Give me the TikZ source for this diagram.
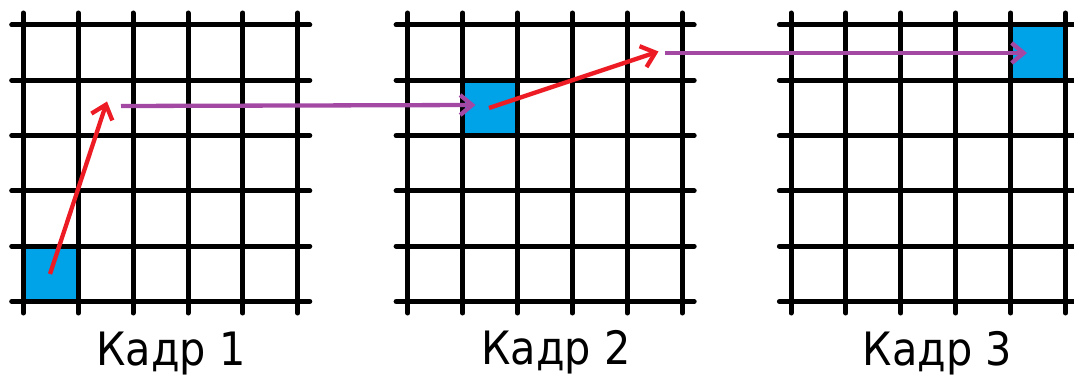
\documentclass[tikz,border=0pt]{standalone}
\usepackage{fontspec}
\setmainfont{DejaVu Sans Condensed}
\usetikzlibrary{arrows.meta}
\definecolor{cellblue}{RGB}{0,162,232}
\definecolor{arred}{RGB}{237,28,36}
\definecolor{arpurple}{RGB}{163,73,164}
\tikzset{
  gridline/.style={line width=5pt, black, line cap=round},
  cell/.style={fill=cellblue, draw=none},
  redarrow/.style={line width=4.3pt, arred, -{Straight Barb[length=13pt,width=22pt]}},
  purplearrow/.style={line width=4.3pt, arpurple, -{Straight Barb[length=12pt,width=20pt]}},
  caption/.style={font=\fontsize{46}{54}\selectfont, anchor=base, inner sep=0pt}
}
\begin{document}
\begin{tikzpicture}[x=1pt,y=-1pt]
\useasboundingbox (0,0) rectangle (1074,377);
\begin{scope}
\clip (0,0) rectangle (1074,377);
% blue cells
\fill[cell] (23.3,246.2) rectangle ++(54.9,55.3);
\fill[cell] (462.6,80.3) rectangle ++(54.9,55.3);
\fill[cell] (1010.6,25) rectangle ++(54.9,55.3);
% grids
\foreach \xo in {23.3,407.7,791} {
  \foreach \i in {0,...,5} {
    \draw[gridline] ({\xo+\i*54.9},13) -- ({\xo+\i*54.9},313);
    \draw[gridline] ({\xo-11.6},{25+\i*55.3}) -- ({\xo+286.5},{25+\i*55.3});
  }
}
\end{scope}
% coordinates for connectors
\coordinate (r1s) at (50,274);
\coordinate (r1e) at (107,101.5);
\coordinate (p1s) at (121,106);
\coordinate (p1e) at (475.5,105);
\coordinate (r2s) at (489,108);
\coordinate (r2e) at (658.5,51.5);
\coordinate (p2s) at (665,53);
\coordinate (p2e) at (1027,53);
\draw[redarrow] (r1s) -- (r1e);
\draw[purplearrow] (p1s) -- (p1e);
\draw[redarrow] (r2s) -- (r2e);
\draw[purplearrow] (p2s) -- (p2e);
% captions
\node[caption] (k1) at (171,365.5) {Кадр 1};
\node[caption] (k2) at (556,364) {Кадр 2};
\node[caption] (k3) at (937.5,365) {Кадр 3};
\end{tikzpicture}
\end{document}
